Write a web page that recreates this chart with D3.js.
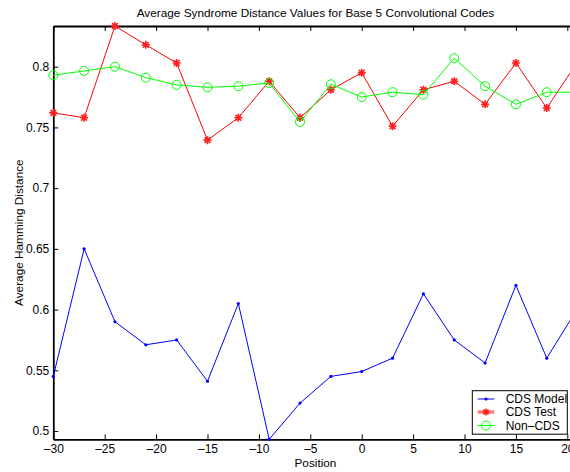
<!DOCTYPE html>
<html>
<head>
<meta charset="utf-8">
<script src="https://cdn.jsdelivr.net/npm/d3@7"></script>
<style>
    body { margin: 0; background: white; }
    svg { display: block; font-family: "Liberation Sans", Arial, Helvetica, sans-serif; }
</style>
</head>
<body>
<script>
// values
const positions = [-30, -27, -24, -21, -18, -15, -12, -9, -6, -3, 0, 3, 6, 9, 12, 15, 18, 21]
const cdsModel = [0.545, 0.650, 0.590, 0.571, 0.575, 0.541, 0.605, 0.4932, 0.523, 0.545, 0.549, 0.560, 0.613, 0.575, 0.556, 0.620, 0.560, 0.601]
const cdsTest = [0.762, 0.758, 0.8335, 0.818, 0.803, 0.7395, 0.758, 0.788, 0.758, 0.781, 0.795, 0.751, 0.781, 0.788, 0.769, 0.803, 0.766, 0.804]
const nonCds = [0.793, 0.7965, 0.800, 0.791, 0.785, 0.783, 0.784, 0.7866, 0.7545, 0.7855, 0.775, 0.779, 0.777, 0.807, 0.784, 0.769, 0.779, 0.779]
const xTicks = [-30, -25, -20, -15, -10, -5, 0, 5, 10, 15, 20]
const yTicks = [0.5, 0.55, 0.6, 0.65, 0.7, 0.75, 0.8]
const seriesNames = ['CDS Model', 'CDS Test', 'Non\u2013CDS']

const W = 570, H = 472
const plot = { left: 53.3, right: 577.6, top: 26, bottom: 439.3 }

const svg = d3.select("body")
    .append("svg")
    .attr("width", W)
    .attr("height", H)

const allVals = cdsModel.concat(cdsTest, nonCds)

const xScale = d3.scaleLinear()
    .domain([-30, 21])
    .range([plot.left, plot.right])

const yScale = d3.scaleLinear()
    .domain(d3.extent(allVals))
    .range([plot.bottom, plot.top])

const fmtX = d => d < 0 ? "\u2013" + Math.abs(d) : String(d)
const fmtY = d => String(+d.toFixed(2))

// axes (MATLAB style: ticks pointing inward)
const xAxis = d3.axisBottom(xScale).tickValues(xTicks).tickSizeInner(-5).tickSizeOuter(0).tickPadding(5.5).tickFormat(fmtX)
const xAxisTop = d3.axisTop(xScale).tickValues(xTicks).tickSizeInner(-5).tickSizeOuter(0).tickFormat("")
const yAxis = d3.axisLeft(yScale).tickValues(yTicks).tickSizeInner(-5).tickSizeOuter(0).tickPadding(4).tickFormat(fmtY)

function styleAxis(g) {
    g.select(".domain").attr("stroke", "#000").attr("stroke-width", 1.8)
    g.selectAll(".tick line").attr("stroke", "#000").attr("stroke-width", 1)
    g.selectAll(".tick text").attr("fill", "#000").style("font-size", "12px").style("font-family", "Liberation Sans, Arial, sans-serif")
}

svg.append("g")
    .attr("transform", `translate(0, ${plot.bottom})`)
    .call(xAxis)
    .call(styleAxis)

svg.append("g")
    .attr("transform", `translate(0, ${plot.top})`)
    .call(xAxisTop)
    .call(styleAxis)

svg.append("g")
    .attr("transform", `translate(${plot.left}, 0)`)
    .call(yAxis)
    .call(styleAxis)

const line = d3.line()
    .x(d => xScale(d.x))
    .y(d => yScale(d.y))

function toPts(vals) {
    return positions.map((p, i) => ({ x: p, y: vals[i] }))
}

const starPath = s => `M${-s},0L${s},0M0,${-s}L0,${s}M${-s * 0.72},${-s * 0.72}L${s * 0.72},${s * 0.72}M${-s * 0.72},${s * 0.72}L${s * 0.72},${-s * 0.72}`

// CDS Model (blue, dots)
svg.append("path")
    .datum(toPts(cdsModel))
    .attr("fill", "none")
    .attr("stroke", "#0000ff")
    .attr("stroke-width", 1)
    .attr("d", line)
svg.selectAll(".dot")
    .data(toPts(cdsModel))
    .enter()
    .append("circle")
    .attr("class", "dot")
    .attr("cx", d => xScale(d.x))
    .attr("cy", d => yScale(d.y))
    .attr("r", 1.6)
    .attr("fill", "#0000ff")

// CDS Test (red, stars)
svg.append("path")
    .datum(toPts(cdsTest))
    .attr("fill", "none")
    .attr("stroke", "#ff0000")
    .attr("stroke-width", 1)
    .attr("d", line)
svg.selectAll(".star")
    .data(toPts(cdsTest))
    .enter()
    .append("path")
    .attr("class", "star")
    .attr("transform", d => `translate(${xScale(d.x)}, ${yScale(d.y)})`)
    .attr("d", starPath(4))
    .attr("stroke", "#ff2020")
    .attr("stroke-width", 1.6)
    .attr("fill", "none")

// Non-CDS (green, circles)
svg.append("path")
    .datum(toPts(nonCds))
    .attr("fill", "none")
    .attr("stroke", "#00ff00")
    .attr("stroke-width", 1)
    .attr("d", line)
svg.selectAll(".ring")
    .data(toPts(nonCds))
    .enter()
    .append("circle")
    .attr("class", "ring")
    .attr("cx", d => xScale(d.x))
    .attr("cy", d => yScale(d.y))
    .attr("r", 4.5)
    .attr("fill", "none")
    .attr("stroke", "#00ff00")
    .attr("stroke-width", 1)

// labels
svg.append("text")
    .attr("x", (plot.left + plot.right) / 2)
    .attr("y", 16.5)
    .attr("text-anchor", "middle")
    .style("font-size", "11.8px")
    .text("Average Syndrome Distance Values for Base 5 Convolutional Codes")

svg.append("text")
    .attr("x", (plot.left + plot.right) / 2)
    .attr("y", 467)
    .attr("text-anchor", "middle")
    .style("font-size", "11.8px")
    .text("Position")

svg.append("text")
    .attr("transform", `translate(22.5, ${(plot.top + plot.bottom) / 2}) rotate(-90)`)
    .attr("text-anchor", "middle")
    .style("font-size", "11.8px")
    .text("Average Hamming Distance")

// legend
const legend = svg.append("g")
legend.append("rect")
    .attr("x", 472.3)
    .attr("y", 390.7)
    .attr("width", 95)
    .attr("height", 43.5)
    .attr("fill", "white")
    .attr("stroke", "#000")
    .attr("stroke-width", 1)

const legendY = [399, 412, 425.5]
const lx0 = 477.7, lx1 = 494.3, lxm = (lx0 + lx1) / 2

legend.append("line").attr("x1", lx0).attr("x2", lx1).attr("y1", legendY[0]).attr("y2", legendY[0]).attr("stroke", "#0000ff")
legend.append("circle").attr("cx", lxm).attr("cy", legendY[0]).attr("r", 1.6).attr("fill", "#0000ff")

legend.append("line").attr("x1", lx0).attr("x2", lx1).attr("y1", legendY[1]).attr("y2", legendY[1]).attr("stroke", "#ff8080").attr("stroke-width", 3.5)
legend.append("path").attr("transform", `translate(${lxm}, ${legendY[1]})`).attr("d", starPath(3.5)).attr("stroke", "#ff2020").attr("stroke-width", 1.6)

legend.append("line").attr("x1", lx0).attr("x2", lx1).attr("y1", legendY[2]).attr("y2", legendY[2]).attr("stroke", "#00ff00")
legend.append("circle").attr("cx", lxm).attr("cy", legendY[2]).attr("r", 4.5).attr("fill", "none").attr("stroke", "#00ff00")

legend.selectAll(".lt")
    .data(seriesNames)
    .enter()
    .append("text")
    .attr("class", "lt")
    .attr("x", 505.7)
    .attr("y", (d, i) => legendY[i] + 4.3)
    .style("font-size", "12px")
    .text(d => d)
</script>
</body>
</html>
